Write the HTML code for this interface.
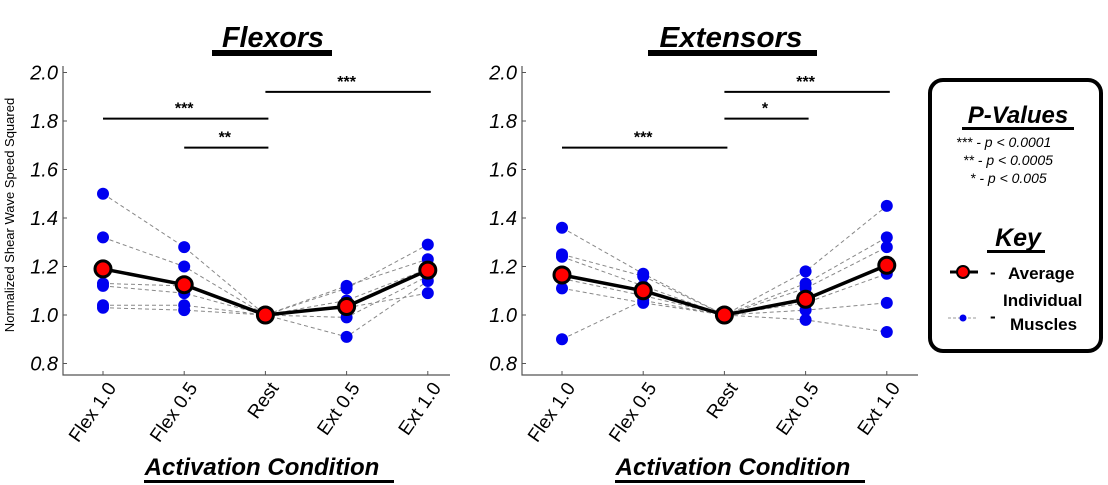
<!DOCTYPE html>
<html><head><meta charset="utf-8"><style>
html,body{margin:0;padding:0;background:#fff;}
svg{display:block;font-family:"Liberation Sans",sans-serif;}
</style></head><body>
<svg id="chart" width="1108" height="485" viewBox="0 0 1108 485" xmlns="http://www.w3.org/2000/svg">
<g id="left"></g>
<g id="right"></g>
<text x="14" y="215" font-size="13" text-anchor="middle" transform="rotate(-90 14 215)">Normalized Shear Wave Speed Squared</text>
<g>
<rect x="930" y="80" width="171" height="271" rx="13" fill="#fff" stroke="#000" stroke-width="4"/>
<text x="1018" y="123" font-size="24" font-weight="bold" font-style="italic" text-anchor="middle">P-Values</text>
<rect x="962" y="127" width="112" height="3" fill="#000"/>
<text x="956" y="147" font-size="14" font-style="italic">***  - p &lt; 0.0001</text>
<text x="963" y="165" font-size="14" font-style="italic">**  - p &lt; 0.0005</text>
<text x="970" y="183" font-size="14" font-style="italic">*   - p &lt; 0.005</text>
<text x="1018" y="246" font-size="25" font-weight="bold" font-style="italic" text-anchor="middle">Key</text>
<rect x="987" y="250" width="58" height="3" fill="#000"/>
<line x1="950" y1="272" x2="978" y2="272" stroke="#000" stroke-width="3"/>
<circle cx="963" cy="272" r="6" fill="#f00" stroke="#000" stroke-width="2"/>
<text x="990" y="278" font-size="17" font-weight="bold">-</text>
<text x="1008" y="279" font-size="17" font-weight="bold">Average</text>
<line x1="948" y1="318" x2="978" y2="318" stroke="#999" stroke-width="1" stroke-dasharray="3,2"/>
<circle cx="963" cy="318" r="3.5" fill="#0000ee"/>
<text x="990" y="322" font-size="17" font-weight="bold">-</text>
<text x="1003" y="306" font-size="17" font-weight="bold">Individual</text>
<text x="1010" y="330" font-size="17" font-weight="bold">Muscles</text>
</g>
</svg>
<script>
const categories = ["Flex 1.0","Flex 0.5","Rest","Ext 0.5","Ext 1.0"];
const yTicks = [0.8,1.0,1.2,1.4,1.6,1.8,2.0];
const yTickLabels = ["0.8","1.0","1.2","1.4","1.6","1.8","2.0"];
const flexorsMuscles = [
 [1.50,1.28,1.0,1.11,1.29],
 [1.32,1.20,1.0,1.12,1.23],
 [1.13,1.12,1.0,1.06,1.19],
 [1.12,1.09,1.0,0.99,1.16],
 [1.04,1.04,1.0,0.91,1.14],
 [1.03,1.02,1.0,1.03,1.09]
];
const flexorsAverage = [1.19,1.125,1.0,1.035,1.185];
const flexorsSig = [[0,2,"***",1.81],[1,2,"**",1.69],[2,4,"***",1.92]];
const extensorsMuscles = [
 [1.36,1.17,1.0,1.18,1.45],
 [1.25,1.16,1.0,1.13,1.32],
 [1.24,1.12,1.0,1.11,1.28],
 [1.15,1.08,1.0,1.05,1.17],
 [1.11,1.05,1.0,1.02,1.05],
 [0.90,1.06,1.0,0.98,0.93]
];
const extensorsAverage = [1.165,1.10,1.0,1.065,1.205];
const extensorsSig = [[0,2,"***",1.69],[2,3,"*",1.81],[2,4,"***",1.92]];

const NS="http://www.w3.org/2000/svg";
function mk(parent,tag,attrs,text){
  const el=document.createElementNS(NS,tag);
  for(const k in attrs) el.setAttribute(k,attrs[k]);
  if(text!==undefined) el.textContent=text;
  parent.appendChild(el);
  return el;
}
function panel(g,cfg){
  const yScale=v=>315-(v-1.0)/0.2*48.5;
  const xScale=i=>cfg.x0+i*cfg.dx;
  let t=mk(g,"text",{x:cfg.titleX,y:47,"font-size":29,"font-weight":"bold","font-style":"italic","text-anchor":"middle",textLength:cfg.titleW,lengthAdjust:"spacingAndGlyphs"},cfg.title);
  
  
  let r=mk(g,"rect",{x:cfg.barX,y:50,width:cfg.barW,height:6,fill:"#000"});
  
  
  let ax=mk(g,"path",{d:`M${cfg.axX},66 V375 H${cfg.axEnd}`,fill:"none",stroke:"#555","stroke-width":1.2});
  
  
  yTicks.forEach((v,i)=>{
    const y=yScale(v);
    let tk=mk(g,"line",{x1:cfg.axX,x2:cfg.axX+4,y1:y,y2:y,stroke:"#555"});
    
    
    let tl=mk(g,"text",{x:cfg.axX-5,y:y+7,"font-size":20,"font-style":"italic","text-anchor":"end"},yTickLabels[i]);
    
    
  });
  categories.forEach((c,i)=>{
    const x=xScale(i);
    let tk=mk(g,"line",{x1:x,x2:x,y1:375,y2:371,stroke:"#555"});
    
    
    const ax2=x+14, ay=388;
    let tl=mk(g,"text",{x:ax2,y:ay,"font-size":19,"text-anchor":"end",transform:`rotate(-55 ${ax2} ${ay})`},c);
    
    
  });
  let xt=mk(g,"text",{x:cfg.xtX,y:475,"font-size":24,"font-weight":"bold","font-style":"italic","text-anchor":"middle"},"Activation Condition");
  
  
  let xu=mk(g,"rect",{x:cfg.xtX-118,y:480,width:250,height:3,fill:"#000"});
  
  
  cfg.sig.forEach(s=>{
    const y=yScale(s[3]);
    let l=mk(g,"line",{x1:xScale(s[0]),x2:xScale(s[1])+3,y1:y,y2:y,stroke:"#000","stroke-width":2});
    
    
    let st=mk(g,"text",{x:(xScale(s[0])+xScale(s[1]))/2,y:y-5,"font-size":16,"font-weight":"bold","text-anchor":"middle"},s[2]);
    
    
  });
  cfg.muscles.forEach(m=>{
    let pl=mk(g,"polyline",{points:m.map((v,i)=>xScale(i)+","+yScale(v)).join(" "),fill:"none",stroke:"#888","stroke-width":1,"stroke-dasharray":"4,3"});
    
    
  });
  cfg.muscles.forEach(m=>{
    m.forEach((v,i)=>{
      let c=mk(g,"circle",{cx:xScale(i),cy:yScale(v),r:6,fill:"#0000f0"});
      
      
    });
  });
  let al=mk(g,"polyline",{points:cfg.avg.map((v,i)=>xScale(i)+","+yScale(v)).join(" "),fill:"none",stroke:"#000","stroke-width":3.5});
  
  
  cfg.avg.forEach((v,i)=>{
    let c=mk(g,"circle",{cx:xScale(i),cy:yScale(v),r:8,fill:"#f00",stroke:"#000","stroke-width":3});
    
    
  });
}
panel(document.getElementById("left"),{x0:103,dx:81.2,axX:63,axEnd:450,title:"Flexors",titleX:273,titleW:102,barX:212,barW:120,xtX:262,sig:flexorsSig,muscles:flexorsMuscles,avg:flexorsAverage});
panel(document.getElementById("right"),{x0:562,dx:81.2,axX:522,axEnd:918,title:"Extensors",titleX:731,titleW:143,barX:648,barW:169,xtX:733,sig:extensorsSig,muscles:extensorsMuscles,avg:extensorsAverage});
</script>
</body></html>
